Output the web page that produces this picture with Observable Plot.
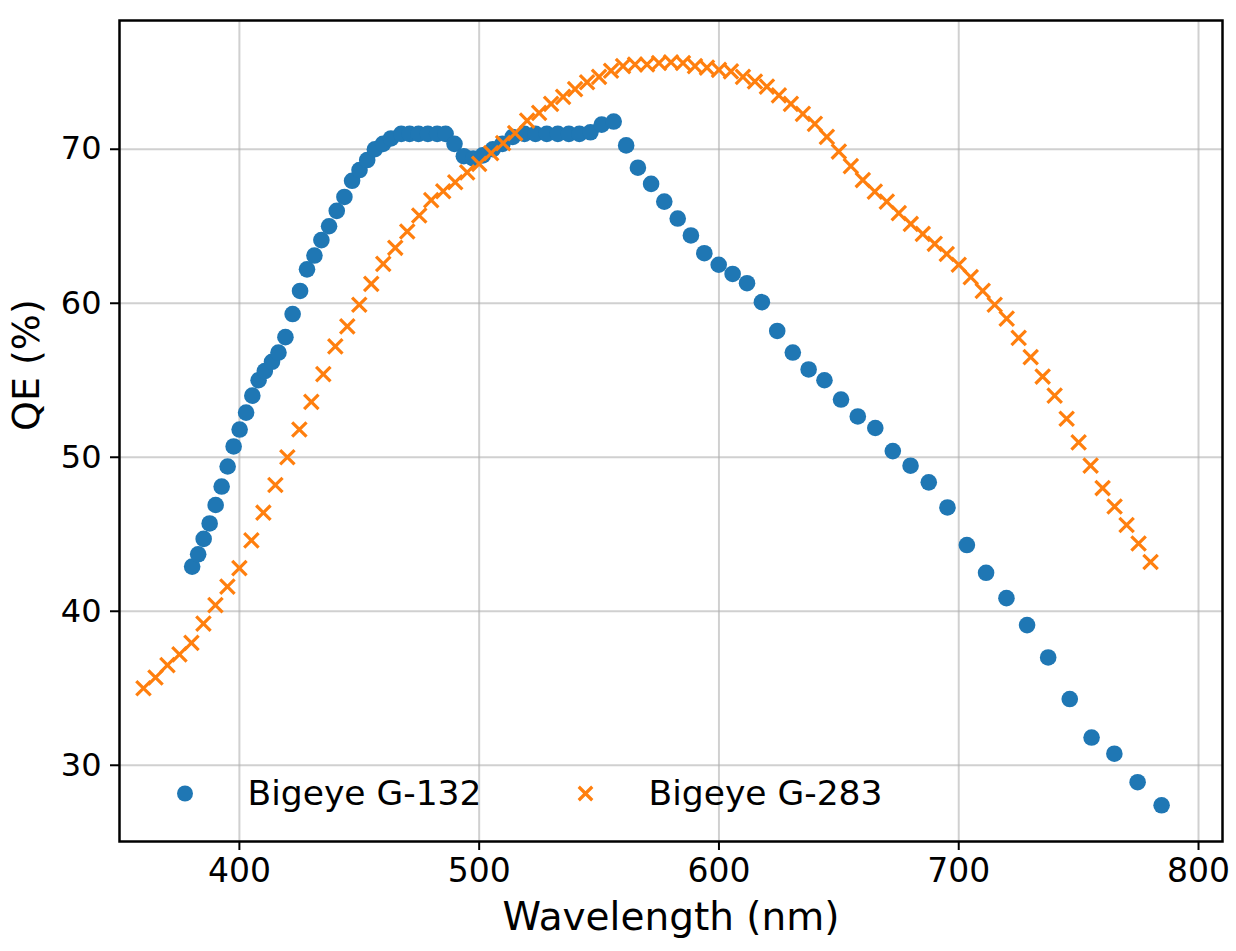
<!DOCTYPE html>
<html><head><meta charset="utf-8">
<script src="https://cdn.jsdelivr.net/npm/d3@7"></script>
<script src="https://cdn.jsdelivr.net/npm/@observablehq/plot@0.6"></script>
<style>
html,body{margin:0;padding:0;background:#fff;overflow:hidden;}
svg{display:block}
</style>
</head><body><div id="chart"></div>
<script>
const seriesNames = ["Bigeye G-132", "Bigeye G-283"];
const seriesColors = ["#1f77b4", "#ff7f0e"];

const g132Wavelength = [380.3, 382.8, 385.1, 387.6, 390.1, 392.6, 395.1, 397.6, 400.1, 402.8, 405.4, 408.0, 410.6,
  413.6, 416.3, 419.2, 422.2, 425.3, 428.2, 431.3, 434.2, 437.4, 440.6, 443.8, 447.0, 450.1, 453.3, 456.5, 459.9, 463.2,
  467.5, 471.0, 474.7, 478.6, 482.5, 486.0,
  489.7, 493.6, 497.5, 501.5, 505.7, 509.7, 514.0, 518.9, 523.5, 528.2, 532.8, 537.4, 541.8, 546.4, 551.1, 556.1,
  561.3, 566.2, 571.7, 577.2, 582.8, 588.3, 593.9, 599.9, 605.7, 611.7, 617.9,
  624.3, 630.8, 637.4, 644.0, 650.9, 657.9, 665.2, 672.5, 679.9, 687.5, 695.3,
  703.4, 711.4, 719.9, 728.5, 737.3, 746.3, 755.4, 764.9, 774.6, 784.6];
const g132QE = [42.9, 43.7, 44.7, 45.7, 46.9, 48.1, 49.4, 50.7, 51.8, 52.9, 54.0, 55.0, 55.6,
  56.2, 56.8, 57.8, 59.3, 60.8, 62.2, 63.1, 64.1, 65.0, 66.0, 66.9, 67.95, 68.65, 69.3, 70.0, 70.35, 70.7,
  71.0, 71.0, 71.0, 71.0, 71.0, 71.0,
  70.35, 69.55, 69.4, 69.6, 70.0, 70.35, 70.8, 71.0, 71.0, 71.0, 71.0, 71.0, 71.0, 71.1, 71.6, 71.8,
  70.25, 68.8, 67.75, 66.6, 65.5, 64.4, 63.25, 62.5, 61.9, 61.3, 60.07,
  58.2, 56.8, 55.7, 55.0, 53.75, 52.65, 51.9, 50.4, 49.45, 48.37, 46.74,
  44.3, 42.5, 40.85, 39.1, 37.0, 34.3, 31.8, 30.75, 28.9, 27.4];

const g283Wavelength = [360, 365, 370, 375, 380, 385, 390, 395, 400, 405, 410, 415, 420, 425, 430, 435, 440, 445, 450,
  455, 460, 465, 470, 475, 480, 485, 490, 495, 500, 505, 510, 515, 520, 525, 530, 535, 540, 545, 550,
  555, 560, 565, 570, 575, 580, 585, 590, 595, 600, 605, 610, 615, 620, 625, 630, 635, 640, 645, 650,
  655, 660, 665, 670, 675, 680, 685, 690, 695, 700, 705, 710, 715, 720, 725, 730, 735, 740, 745, 750,
  755, 760, 765, 770, 775, 780];
const g283QE = [35.0, 35.7, 36.5, 37.2, 37.95, 39.2, 40.4, 41.6, 42.8, 44.6, 46.4, 48.2, 50.0, 51.8, 53.6, 55.4, 57.2, 58.5, 59.9,
  61.26, 62.56, 63.6, 64.66, 65.7, 66.7, 67.27, 67.86, 68.5, 69.05, 69.75, 70.4, 71.05, 71.86, 72.36, 72.95, 73.4, 73.9, 74.35, 74.7,
  75.1, 75.4, 75.5, 75.5, 75.6, 75.65, 75.6, 75.4, 75.3, 75.15, 75.06, 74.7, 74.4, 74.07, 73.5, 72.95, 72.3, 71.65, 70.8, 69.85,
  68.9, 68.0, 67.25, 66.6, 65.85, 65.15, 64.5, 63.86, 63.2, 62.5, 61.7, 60.8, 59.9, 59.0, 57.75, 56.5, 55.24, 54.0, 52.5, 50.97,
  49.46, 48.0, 46.8, 45.6, 44.4, 43.2];

const xTicks = [400, 500, 600, 700, 800];
const yTicks = [30, 40, 50, 60, 70];
const xLabel = "Wavelength (nm)";
const yLabel = "QE (%)";

const g132 = g132Wavelength.map((w, i) => ({w, qe: g132QE[i]}));
const g283 = g283Wavelength.map((w, i) => ({w, qe: g283QE[i]}));

const font = "DejaVu Sans";

const chart = Plot.plot({
  width: 1236,
  height: 951,
  marginLeft: 119,
  marginRight: 14,
  marginTop: 20,
  marginBottom: 110,
  style: {fontFamily: font, color: "black", background: "white", overflow: "visible"},
  x: {domain: [350, 810], label: null},
  y: {domain: [25.05, 78.36], label: null},
  marks: [
    Plot.gridX(xTicks, {stroke: "#b0b0b0", strokeOpacity: 0.6, strokeWidth: 2}),
    Plot.gridY(yTicks, {stroke: "#b0b0b0", strokeOpacity: 0.6, strokeWidth: 2}),
    Plot.axisX({ticks: xTicks, tickSize: 9, tickPadding: 8, fontSize: 33, strokeWidth: 2, tickFormat: d => String(d), label: null}),
    Plot.axisY({ticks: yTicks, tickSize: 9, tickPadding: 9, fontSize: 32, strokeWidth: 2, tickFormat: d => String(d), label: null}),
    Plot.dot(g132, {x: "w", y: "qe", r: 8.3, fill: seriesColors[0], stroke: null, symbol: "circle"}),
    Plot.dot(g283, {x: "w", y: "qe", r: 6.6, stroke: seriesColors[1], strokeWidth: 3.2, symbol: "times", fill: "none"}),
    Plot.frame({stroke: "black", strokeWidth: 2.5}),
    // legend
    Plot.dot([seriesNames[0]], {frameAnchor: "bottom-left", dx: 65.5, dy: -48, r: 8, fill: seriesColors[0], symbol: "circle"}),
    Plot.text([seriesNames[0]], {frameAnchor: "bottom-left", dx: 128, dy: -48, text: d => d, textAnchor: "start", lineAnchor: "middle", fontSize: 34.5, fill: "black"}),
    Plot.dot([seriesNames[1]], {frameAnchor: "bottom-left", dx: 466, dy: -48, r: 6.2, stroke: seriesColors[1], strokeWidth: 3.2, symbol: "times", fill: "none"}),
    Plot.text([seriesNames[1]], {frameAnchor: "bottom-left", dx: 529, dy: -48, text: d => d, textAnchor: "start", lineAnchor: "middle", fontSize: 34.5, fill: "black"}),
    // axis titles
    Plot.text([xLabel], {frameAnchor: "bottom", dy: 76, text: d => d, lineAnchor: "middle", fontSize: 39, fill: "black"}),
    Plot.text([yLabel], {frameAnchor: "left", dx: -93, text: d => d, rotate: -90, lineAnchor: "middle", fontSize: 38, fill: "black"})
  ]
});
document.getElementById("chart").appendChild(chart);
</script>
</body></html>
